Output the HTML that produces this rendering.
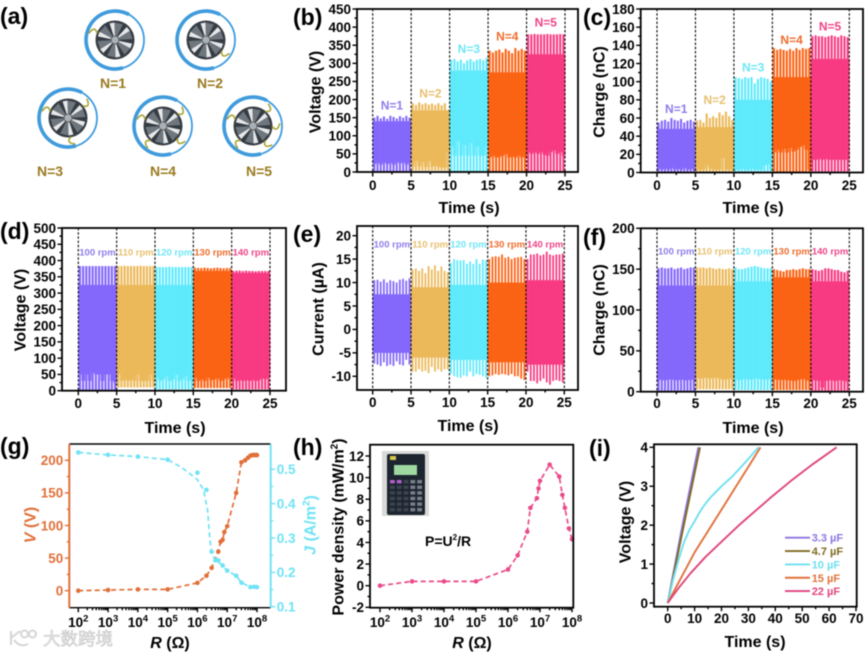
<!DOCTYPE html>
<html lang="en">
<head>
<meta charset="utf-8">
<title>Triboelectric generator output panels</title>
<style>
html,body{margin:0;padding:0;background:#fff;width:865px;height:654px;overflow:hidden}
svg{display:block;filter:blur(0.45px)}
text{font-family:"Liberation Sans","Noto Sans CJK SC",sans-serif;font-weight:bold}
</style>
</head>
<body>
<svg id="fig" xmlns="http://www.w3.org/2000/svg" width="865" height="654" viewBox="0 0 865 654">
<rect width="865" height="654" fill="#fff"/>
<g id="fans"></g>
<g id="plots"></g>

<g font-size="23">
<text font-size="23" x="0" y="24">(a)</text>
<text font-size="23" x="293" y="25">(b)</text>
<text font-size="23" x="583" y="25">(c)</text>
<text font-size="23" x="0" y="239">(d)</text>
<text font-size="23" x="293" y="242">(e)</text>
<text font-size="23" x="583" y="245">(f)</text>
<text font-size="23" x="0" y="454">(g)</text>
<text font-size="23" x="293" y="455">(h)</text>
<text font-size="23" x="589" y="456">(i)</text>
</g>

<g font-size="14" fill="#9a7a20" text-anchor="middle">
<text x="113" y="88">N=1</text>
<text x="210" y="88">N=2</text>
<text x="50" y="176">N=3</text>
<text x="163" y="176">N=4</text>
<text x="259" y="176">N=5</text>
</g>

<g font-size="16" text-anchor="middle">
<text x="469" y="213">Time (s)</text>
<text x="753" y="213">Time (s)</text>
<text x="175" y="433">Time (s)</text>
<text x="468" y="431">Time (s)</text>
<text x="753" y="433">Time (s)</text>
<text x="170" y="648"><tspan font-style="italic">R</tspan> (Ω)</text>
<text x="472" y="648"><tspan font-style="italic">R</tspan> (Ω)</text>
<text x="755" y="647">Time (s)</text>
<text transform="translate(315 92) rotate(-90)" y="5.5">Voltage (V)</text>
<text transform="translate(599 92) rotate(-90)" y="5.5">Charge (nC)</text>
<text transform="translate(20 310) rotate(-90)" y="5.5">Voltage (V)</text>
<text transform="translate(318 309) rotate(-90)" y="5.5">Current (µA)</text>
<text transform="translate(599 310) rotate(-90)" y="5.5">Charge (nC)</text>
<text fill="#e0703a" transform="translate(30 525) rotate(-90)" y="5.5"><tspan font-style="italic">V</tspan> (V)</text>
<text fill="#6fe3f5" transform="translate(310 525) rotate(-90)" y="5.5"><tspan font-style="italic">J</tspan> (A/m<tspan font-size="10" dy="-6">2</tspan><tspan dy="6">)</tspan></text>
<text transform="translate(338 527) rotate(-90)" y="5.5">Power density (mW/m<tspan font-size="10" dy="-6">2</tspan><tspan dy="6">)</tspan></text>
<text transform="translate(625 522) rotate(-90)" y="5.5">Voltage (V)</text>
</g>

<g>
<rect x="382" y="451" width="47" height="65" fill="#d9dad8"/>
<rect x="387" y="454" width="38" height="61" rx="2" fill="#1d2530"/>
<rect x="394" y="465" width="23" height="10" fill="#9fd8a0"/>
<rect x="390" y="456" width="6" height="4" fill="#d8c850"/>
<g id="calcKeys"></g>
</g>
<text x="425" y="546" font-size="14">P=U<tspan font-size="8" dy="-6">2</tspan><tspan dy="6">/R</tspan></text>

<g opacity="0.85">
<path d="M11 631 V645 M11 638 L20 631 M14 640 Q20 648 28 644 M21 634 a3.5 3.5 0 1 0 7 0 a3.5 3.5 0 1 0 -7 0 M29 634 a3.5 3.5 0 1 0 7 0 a3.5 3.5 0 1 0 -7 0" fill="none" stroke="#cfcfcf" stroke-width="2"/>
<text x="43" y="645" font-size="17.5" fill="#e4e4e4" stroke="#bdbdbd" stroke-width="0.6" style="font-weight:normal">大数跨境</text>
</g>
</svg>

<script>
/* ---------- shared categories ---------- */
const segStart = [0, 5, 10, 15, 20];
const segEnd = [5, 10, 15, 20, 25];
const segColors = ['#8468fb', '#ecb95a', '#5feafc', '#fb6314', '#f73a82'];
const labelColors = ['#8f7cea', '#e8c070', '#6fe6f6', '#ee6c2c', '#ee4488'];
const timeTicks = [0, 5, 10, 15, 20, 25];
const nLabels = ['N=1', 'N=2', 'N=3', 'N=4', 'N=5'];
const rpmLabels = ['100 rpm', '110 rpm', '120 rpm', '130 rpm', '140 rpm'];

/* ---------- panel b ---------- */
const bTicks = [0, 50, 100, 150, 200, 250, 300, 350, 400, 450];
const bBodyTop = [140, 170, 280, 275, 325];
const bFloor = [0, 4, 0, 0, 0];
const bPeaks = [
 [150,155,148,153,147,155,152,148,154,150,155,150],
 [190,185,192,187,190,186,189,185,190,184,190,172],
 [310,312,305,310,300,308,312,305,310,312,308,315],
 [335,330,335,338,330,340,335,328,342,335,340,335],
 [380,380,381,380,380,380,381,380,380,380,381,380]];
const bDips = [
 [22,25,20,26,22,25,20,27,24,26,20,25],
 [15,30,15,28,14,30,15,18,14,12,12,55],
 [70,45,85,45,75,45,80,45,70,45,45,70],
 [40,45,40,42,45,50,40,42,40,45,40,42],
 [55,50,55,50,55,48,45,55,60,50,55,45]];
const bLabelLevels = [185, 218, 340, 375, 414];

/* ---------- panel c ---------- */
const cTicks = [0, 20, 40, 60, 80, 100, 120, 140, 160, 180];
const cBodyTop = [48, 50, 80, 105, 125];
const cFloor = [0, 0, 0, 0, 1];
const cPeaks = [
 [55,57,58,56,60,58,57,59,55,57,58,56],
 [57,58,55,65,60,62,60,66,63,67,62,58],
 [105,104,103,105,104,105,98,103,105,104,103,100],
 [137,135,136,135,134,136,134,137,135,137,136,137],
 [150,151,150,150,149,150,151,150,149,151,150,149]];
const cDips = [
 [4,3,4,3,5,3,4,3,5,3,4,3],
 [3,3,3,8,4,3,3,3,16,3,3,3],
 [3,3,4,3,3,4,3,3,3,8,9,3],
 [22,25,22,26,22,27,23,25,28,30,25,3],
 [14,14,15,14,15,14,14,14,14,14,14,14]];
const cLabelLevels = [70, 80, 116, 146, 161];

/* ---------- panel d ---------- */
const dTicks = [0, 50, 100, 150, 200, 250, 300, 350, 400, 450, 500];
const dBodyTop = [325, 325, 325, 368, 362];
const dFloor = [0, 10, 4, 8, 4];
const dPeaks = [
 [383,383,383,383,383,383,383,383,383,383,383,383],
 [383,383,384,383,383,383,383,384,383,383,383,383],
 [380,380,380,380,381,380,380,380,380,380,380,380],
 [378,377,377,378,377,376,377,378,377,376,377,377],
 [368,369,369,368,369,368,368,367,368,368,368,368]];
const dDips = [
 [50,30,50,30,55,50,50,30,50,50,30,25],
 [50,30,35,30,35,30,50,30,30,30,50,30],
 [38,30,35,45,30,35,50,30,35,45,30,35],
 [40,30,35,30,40,32,35,38,30,35,40,35],
 [38,30,33,30,33,30,33,30,33,38,35,40]];
const dLabelLevels = [426, 426, 426, 426, 426];

/* ---------- panel e ---------- */
const eTicks = [-10, -5, 0, 5, 10, 15, 20];
const eBodyTop = [7.5, 9, 9.5, 10, 10.5];
const eBodyBottom = [-5, -6, -6.5, -7, -7.5];
const ePeaks = [
 [10.5,10.6,10.2,10.7,10,10.5,10.3,10,10.6,10.8,10.4,10.9],
 [12.8,13,12.5,13,12,13.5,12.8,13.7,12.5,13.4,12.5,12.2],
 [14.2,15,14.8,14.7,14.8,14,14.5,14,15,14,14.9,14.8],
 [15,15.5,15.6,15.5,16,15.3,15.5,15,15.3,15.4,15.5,15],
 [15,16,16,16.2,15.8,16,16.6,16,15.8,16,16,16.2]];
const eTroughs = [
 [-7.3,-7.5,-7.8,-7,-7.8,-7.5,-7.8,-6.8,-7.5,-7.7,-6.5,-7.5],
 [-9,-9,-8.5,-9,-8.8,-9.3,-8,-9,-8.5,-9,-8.5,-8.5],
 [-9.5,-10,-10.2,-10.3,-9.8,-10,-9,-10,-9.5,-9.7,-10,-10.3],
 [-10,-9.8,-9.5,-9.7,-9.5,-9.6,-9.8,-9.5,-10,-10,-10.5,-10.8],
 [-9,-11,-11,-11.5,-11,-10.5,-11.3,-11.8,-11,-10.8,-11,-11.3]];
const eLabelLevels = [18.2, 18.2, 18.2, 18.2, 18.2];

/* ---------- panel f ---------- */
const fTicks = [0, 50, 100, 150, 200];
const fBodyTop = [130, 130, 135, 140, 135];
const fFloor = [1, 3, 2, 2, 1];
const fPeaks = [
 [151,152,151,151,152,150,151,152,150,151,152,152],
 [152,152,152,151,152,151,150,151,150,150,151,150],
 [152,150,150,151,152,153,154,153,152,151,151,151],
 [150,149,148,147,149,149,150,149,150,151,150,150],
 [150,149,148,149,151,151,150,149,149,147,146,148]];
const fDips = [
 [15,14,14,15,15,14,14,15,14,14,15,14],
 [17,16,17,17,16,17,17,16,15,15,16,15],
 [15,14,15,16,15,15,16,16,15,15,15,16],
 [15,15,14,15,14,14,13,14,15,16,14,13],
 [14,14,13,5,13,14,14,13,14,14,13,12]];
const fLabelLevels = [172, 172, 172, 172, 172];

/* ---------- panel g ---------- */
const logExps = [2, 3, 4, 5, 6, 7, 8];
const gVTicks = [0, 50, 100, 150, 200];
const gJTicks = [0.1, 0.2, 0.3, 0.4, 0.5];
const gVR = [1e2,1e3,1e4,1e5,1e6,2e6,3e6,5e6,6e6,7e6,8e6,1e7,2e7,3e7,4e7,5e7,6e7,7e7,8e7,9e7,1e8];
const gVVals = [0,1,2,2,12,23,35,60,75,78,90,99,150,197,200,204,207,208,208,208,208];
const gJR = [1e2,1e3,1e4,1e5,1e6,2e6,3e6,4e6,5e6,7e6,1e7,2e7,3e7,6e7,8e7,1e8];
const gJVals = [.549,.542,.537,.528,.49,.44,.26,.235,.235,.22,.205,.19,.17,.157,.158,.157];
const gJFitR = [1e2,1e3,1e4,1e5,3e5,1e6,1.6e6,2.2e6,2.6e6,3e6,4e6,6e6,1e7,2e7,3e7,6e7,1e8];
const gJFitVals = [.549,.542,.537,.528,.505,.47,.44,.38,.30,.255,.235,.225,.205,.19,.17,.157,.157];

/* ---------- panel h ---------- */
const hTicks = [-2, 0, 2, 4, 6, 8, 10, 12];
const hR = [1e2,1e3,1e4,1e5,1e6,2e6,4e6,5e6,8e6,9e6,1e7,2e7,4e7,5e7,6e7,8e7,1e8];
const hVals = [0,.4,.4,.4,1.5,2.8,5,7.2,8.1,9,9.7,11.2,10.1,8.4,7.2,5.3,4.3];

/* ---------- panel i ---------- */
const iXTicks = [0, 10, 20, 30, 40, 50, 60, 70];
const iYTicks = [0, 1, 2, 3, 4];
const capNames = ['3.3 µF', '4.7 µF', '10 µF', '15 µF', '22 µF'];
const capColors = ['#8d75e0', '#7f6a22', '#6fe0f0', '#e0723a', '#e0457f'];
const capTimes = [
 [0, 5.5, 11.4],
 [0, 6, 12],
 [0, 2, 4, 6, 8, 10, 12, 14, 16, 18, 20, 24, 28, 31, 33.7],
 [0, 5, 10, 15, 20, 25, 30, 34.5],
 [0, 4, 8.3, 14, 20.7, 27, 33, 39, 45.5, 54, 62.8]];
const capVolts = [
 [0, 2, 4],
 [0, 2, 4],
 [0, .6, 1.1, 1.55, 1.87, 2.1, 2.35, 2.55, 2.72, 2.86, 3, 3.25, 3.55, 3.78, 4],
 [0, .65, 1.3, 1.85, 2.4, 2.95, 3.5, 4],
 [0, .38, .75, 1.18, 1.62, 2.03, 2.39, 2.75, 3.12, 3.57, 4]];

/* ---------- panel a ---------- */
const fanConnectorAngles = [[200], [35], [200, 320, 80], [320, 200, 130, 40], [310, 200, 130, 50, 0]];

/* ---------- drawing ---------- */
const NS = 'http://www.w3.org/2000/svg';
const root = document.getElementById('plots');
function mk(tag, attrs, parent) {
  const el = document.createElementNS(NS, tag);
  for (const k in attrs) el.setAttribute(k, attrs[k]);
  parent.appendChild(el);
  return el;
}
function linear(d0, d1, r0, r1) {
  return v => r0 + (v - d0) * (r1 - r0) / (d1 - d0);
}
function fmt(v) { return String(v); }

function tickLine(parent, x1, y1, x2, y2, color, name) {
  const el = mk('line', {x1, y1, x2, y2, stroke: color, 'stroke-width': 1.4}, parent);
  
  
}
function tickText(parent, str, x, y, anchor, color, name) {
  const el = mk('text', {x, y, 'text-anchor': anchor, 'font-size': 13.5, fill: color}, parent);
  el.textContent = str;
  
  
}
function yAxis(parent, p, y, ticks, color, side, name) {
  const ax = side === 'left' ? p.l : p.r;
  const dir = side === 'left' ? -1 : 1;
  ticks.forEach((v, i) => {
    tickLine(parent, ax, y(v), ax + dir * 4.5, y(v), color, name + '-tick');
    tickText(parent, fmt(v), ax + dir * 6, y(v) + 4.8, side === 'left' ? 'end' : 'start', color, name + '-label');
    if (i < ticks.length - 1) {
      const m = (v + ticks[i + 1]) / 2;
      tickLine(parent, ax, y(m), ax + dir * 2.5, y(m), color, name + '-minor-tick');
    }
  });
}
function xAxisLinear(parent, p, x, ticks, labelY, name) {
  ticks.forEach((v, i) => {
    tickLine(parent, x(v), p.b, x(v), p.b + 4.5, '#000', name + '-tick');
    tickText(parent, fmt(v), x(v), labelY, 'middle', '#000', name + '-label');
    if (i < ticks.length - 1) {
      const m = (v + ticks[i + 1]) / 2;
      tickLine(parent, x(m), p.b, x(m), p.b + 2.5, '#000', name + '-minor-tick');
    }
  });
}
function xAxisLog(parent, p, x, exps, labelY, name) {
  exps.forEach((e, i) => {
    tickLine(parent, x(e), p.b, x(e), p.b + 4.5, '#000', name + '-tick');
    const t = mk('text', {x: x(e), y: labelY, 'text-anchor': 'middle', 'font-size': 13.5}, parent);
    
    
    const a = mk('tspan', {}, t);
    a.textContent = '10';
    const b = mk('tspan', {'font-size': 9.5, dy: -5.5}, t);
    b.textContent = String(e);
    if (i < exps.length - 1) {
      for (let k = 2; k < 10; k++) {
        tickLine(parent, x(e + Math.log10(k)), p.b, x(e + Math.log10(k)), p.b + 2.5, '#000', name + '-minor-tick');
      }
    }
  });
}
function frame(parent, p, name) {
  const el = mk('rect', {x: p.l, y: p.t, width: p.r - p.l, height: p.b - p.t, fill: 'none', stroke: '#000', 'stroke-width': 1.8}, parent);
  
  
}
function dividers(parent, p, x, ticks, name) {
  ticks.forEach(v => {
    const el = mk('line', {x1: x(v), x2: x(v), y1: p.t, y2: p.b, stroke: '#000', 'stroke-width': 1.1, 'stroke-dasharray': '2.4 1.8'}, parent);
    
    
  });
}
/* A burst of cycles: body column plus one spike per cycle separated by a thin gap.
   floors given  => spikes run from floor; dips are the lower body edge.
   bottoms given => body stops at bottoms; dips are the spike lower ends. */
function comb(parent, x, y, peaks, dips, bodyTop, floors, bottoms, gapPx, name) {
  segStart.forEach((start, s) => {
    const g = mk('g', {fill: segColors[s]}, parent);
    
    
    const n = peaks[s].length;
    const dt = (segEnd[s] - start) / n;
    for (let i = 0; i < n; i++) {
      const t0 = start + i * dt;
      const low = bottoms ? bottoms[s] : dips[s][i];
      const spikeLow = bottoms ? dips[s][i] : floors[s];
      const w = x(t0 + dt) - x(t0);
      const body = mk('rect', {x: x(t0), width: w + 0.3, y: y(bodyTop[s]), height: y(low) - y(bodyTop[s])}, g);
      
      
      const spike = mk('rect', {x: x(t0) + gapPx / 2, width: w - gapPx, y: y(peaks[s][i]), height: y(spikeLow) - y(peaks[s][i])}, g);
      
      
    }
  });
}
function segLabels(parent, x, y, labels, levels, size, name) {
  labels.forEach((str, s) => {
    const el = mk('text', {x: x((segStart[s] + segEnd[s]) / 2), y: y(levels[s]) + size * 0.36, 'text-anchor': 'middle', 'font-size': size, fill: labelColors[s]}, parent);
    el.textContent = str;
    
    
  });
}
function group(name) {
  const g = mk('g', {}, root);
  
  
  return g;
}
function timePanel(name, p, yr, yticks, peaks, dips, bodyTop, floors, bottoms, gapPx, labels, levels, size, labelY) {
  const g = group('chart-' + name);
  const x = linear(0, 25, p.x0, p.x1);
  const y = linear(yr[0], yr[1], yr[2], yr[3]);
  comb(g, x, y, peaks, dips, bodyTop, floors, bottoms, gapPx, 'series-' + name);
  dividers(g, p, x, timeTicks, 'time-divider');
  frame(g, p, 'plot-frame-' + name);
  yAxis(g, p, y, yticks, '#000', 'left', 'y-axis-' + name);
  xAxisLinear(g, p, x, timeTicks, labelY, 'x-axis-' + name);
  segLabels(g, x, y, labels, levels, size, 'segment-label');
}

timePanel('b', {l:357,r:578,t:9,b:172,x0:372.7,x1:565}, [0,450,172,9], bTicks, bPeaks, bDips, bBodyTop, bFloor, null, 1.1, nLabels, bLabelLevels, 12, 190);
timePanel('c', {l:640.7,r:863,t:9,b:172.5,x0:657,x1:849.3}, [0,180,172.5,9], cTicks, cPeaks, cDips, cBodyTop, cFloor, null, 1.1, nLabels, cLabelLevels, 12, 190);
timePanel('d', {l:62,r:286,t:228,b:390.7,x0:78.3,x1:270}, [0,500,390.7,228], dTicks, dPeaks, dDips, dBodyTop, dFloor, null, 1, rpmLabels, dLabelLevels, 9.5, 408);
timePanel('e', {l:357,r:578,t:226,b:390,x0:372.7,x1:564.3}, [-10,20,376.3,235.7], eTicks, ePeaks, eTroughs, eBodyTop, null, eBodyBottom, 1.4, rpmLabels, eLabelLevels, 9.5, 407);
timePanel('f', {l:640.7,r:863,t:228.3,b:391.7,x0:657,x1:849.3}, [0,200,391.7,228.3], fTicks, fPeaks, fDips, fBodyTop, fFloor, null, 1, rpmLabels, fLabelLevels, 9.5, 408);

function dashedSeries(parent, xs, ys, color, name) {
  const el = mk('polyline', {points: xs.map((v, i) => v + ',' + ys[i]).join(' '), fill: 'none', stroke: color, 'stroke-width': 1.7, 'stroke-dasharray': '5 3.2'}, parent);
  
  
}
function dots(parent, xs, ys, color, name) {
  xs.forEach((v, i) => {
    const el = mk('circle', {cx: v, cy: ys[i], r: 2.3, fill: color}, parent);
    
    
  });
}

/* panel g */
(function () {
  const p = {l:69.3,r:270.7,t:444,b:607.7};
  const g = group('chart-g');
  const x = linear(2, 8, 78.3, 257);
  const yV = linear(0, 200, 590.7, 460.3);
  const yJ = linear(0.1, 0.5, 606.7, 469.3);
  const orange = '#e0703a', cyan = '#6fe3f5';
  dashedSeries(g, gVR.map(r => x(Math.log10(r))), gVVals.map(yV), orange, 'voltage-fit-line');
  dashedSeries(g, gJFitR.map(r => x(Math.log10(r))), gJFitVals.map(yJ), cyan, 'current-density-fit-line');
  dots(g, gVR.map(r => x(Math.log10(r))), gVVals.map(yV), orange, 'voltage-point');
  dots(g, gJR.map(r => x(Math.log10(r))), gJVals.map(yJ), cyan, 'current-density-point');
  tickLine(g, p.l, p.t, p.r, p.t, '#000', 'plot-top-border');
  tickLine(g, p.l, p.b, p.r, p.b, '#000', 'plot-bottom-border');
  const left = mk('line', {x1: p.l, x2: p.l, y1: p.t, y2: p.b, stroke: orange, 'stroke-width': 2}, g);
  
  
  const right = mk('line', {x1: p.r, x2: p.r, y1: p.t, y2: p.b, stroke: cyan, 'stroke-width': 2}, g);
  
  
  yAxis(g, p, yV, gVTicks, orange, 'left', 'voltage-axis');
  yAxis(g, p, yJ, gJTicks, cyan, 'right', 'current-density-axis');
  xAxisLog(g, p, x, logExps, 627, 'resistance-axis-g');
})();

/* panel h */
(function () {
  const p = {l:370,r:573.3,t:444.7,b:607.7};
  const g = group('chart-h');
  const x = linear(2, 8, 380, 572);
  const y = linear(-2, 12, 607.3, 456);
  const pink = '#ea4a8a';
  dashedSeries(g, hR.map(r => x(Math.log10(r))), hVals.map(y), pink, 'power-density-line');
  dots(g, hR.map(r => x(Math.log10(r))), hVals.map(y), pink, 'power-density-point');
  frame(g, p, 'plot-frame-h');
  yAxis(g, p, y, hTicks, '#000', 'left', 'power-density-axis');
  xAxisLog(g, p, x, logExps, 627, 'resistance-axis-h');
})();

/* panel i */
(function () {
  const p = {l:654,r:856.7,t:444.3,b:606.7};
  const g = group('chart-i');
  const x = linear(0, 70, 667.7, 856);
  const y = linear(0, 4, 603, 447.3);
  capNames.forEach((name, s) => {
    const el = mk('polyline', {points: capTimes[s].map((t, i) => x(t) + ',' + y(capVolts[s][i])).join(' '), fill: 'none', stroke: capColors[s], 'stroke-width': 1.9, 'stroke-linejoin': 'round'}, g);
    
    
    const ly = 537.7 + s * 13.35;
    const ln = mk('line', {x1: 785, x2: 810, y1: ly, y2: ly, stroke: capColors[s], 'stroke-width': 1.9}, g);
    
    
    const tx = mk('text', {x: 811.7, y: ly + 4, 'font-size': 11, fill: capColors[s]}, g);
    tx.textContent = name;
    
    
  });
  frame(g, p, 'plot-frame-i');
  yAxis(g, p, y, iYTicks, '#000', 'left', 'voltage-axis-i');
  xAxisLinear(g, p, x, iXTicks, 623, 'time-axis-i');
})();

/* fans, panel a */
function fan(parent, cx, cy, angles, name) {
  const g = mk('g', {transform: 'translate(' + cx + ' ' + cy + ')'}, parent);
  
  
  const ring = mk('circle', {r: 29, fill: '#fff', stroke: '#3d9be0', 'stroke-width': 1.8}, g);
  
  
  const band = mk('path', {d: 'M 8 27.9 A 29 29 0 1 1 14 -25.4', fill: 'none', stroke: '#3f9bdc', 'stroke-width': 3.6}, g);
  
  
  const disc = mk('circle', {r: 19.5, fill: '#363c43'}, g);
  
  
  for (let k = 0; k < 6; k++) {
    const a = (k * 60 + 12) * Math.PI / 180;
    const b = a + 0.28, c = a + 0.78;
    const grey = mk('path', {d: 'M0 0 L' + 17.5 * Math.cos(b) + ' ' + 17.5 * Math.sin(b) + ' L' + 17.5 * Math.cos(c) + ' ' + 17.5 * Math.sin(c) + ' Z', fill: '#6f777e'}, g);
    
    
    const white = mk('path', {d: 'M0 0 L' + 17.5 * Math.cos(a) + ' ' + 17.5 * Math.sin(a) + ' L' + 17.5 * Math.cos(b) + ' ' + 17.5 * Math.sin(b) + ' Z', fill: '#e6e8ea'}, g);
    
    
  }
  const hub = mk('circle', {r: 4, fill: '#a8b0b8', stroke: '#555', 'stroke-width': 0.8}, g);
  
  
  angles.forEach(deg => {
    const a = deg * Math.PI / 180;
    const path = mk('path', {d: 'M' + 19 * Math.cos(a) + ' ' + 19 * Math.sin(a) + ' Q' + 25 * Math.cos(a + 0.3) + ' ' + 25 * Math.sin(a + 0.3) + ' ' + 27 * Math.cos(a - 0.1) + ' ' + 27 * Math.sin(a - 0.1), fill: 'none', stroke: '#a9a433', 'stroke-width': 1.6}, g);
    
    
  });
}
const fansG = document.getElementById('fans');
fan(fansG, 115, 40, fanConnectorAngles[0], 'fan-n1');
fan(fansG, 206, 40, fanConnectorAngles[1], 'fan-n2');
fan(fansG, 68, 118, fanConnectorAngles[2], 'fan-n3');
fan(fansG, 163, 126, fanConnectorAngles[3], 'fan-n4');
fan(fansG, 253, 126, fanConnectorAngles[4], 'fan-n5');

/* calculator keys */
const calc = document.getElementById('calcKeys');
for (let r = 0; r < 6; r++) {
  for (let c = 0; c < 5; c++) {
    const key = mk('rect', {x: 390 + c * 6.8, y: 480 + r * 5.6, width: 4.8, height: 3.4, fill: r === 0 && c < 2 ? '#b060c8' : (c > 2 ? '#7a8088' : '#3c4450')}, calc);
    
    
  }
}
</script>
</body>
</html>
